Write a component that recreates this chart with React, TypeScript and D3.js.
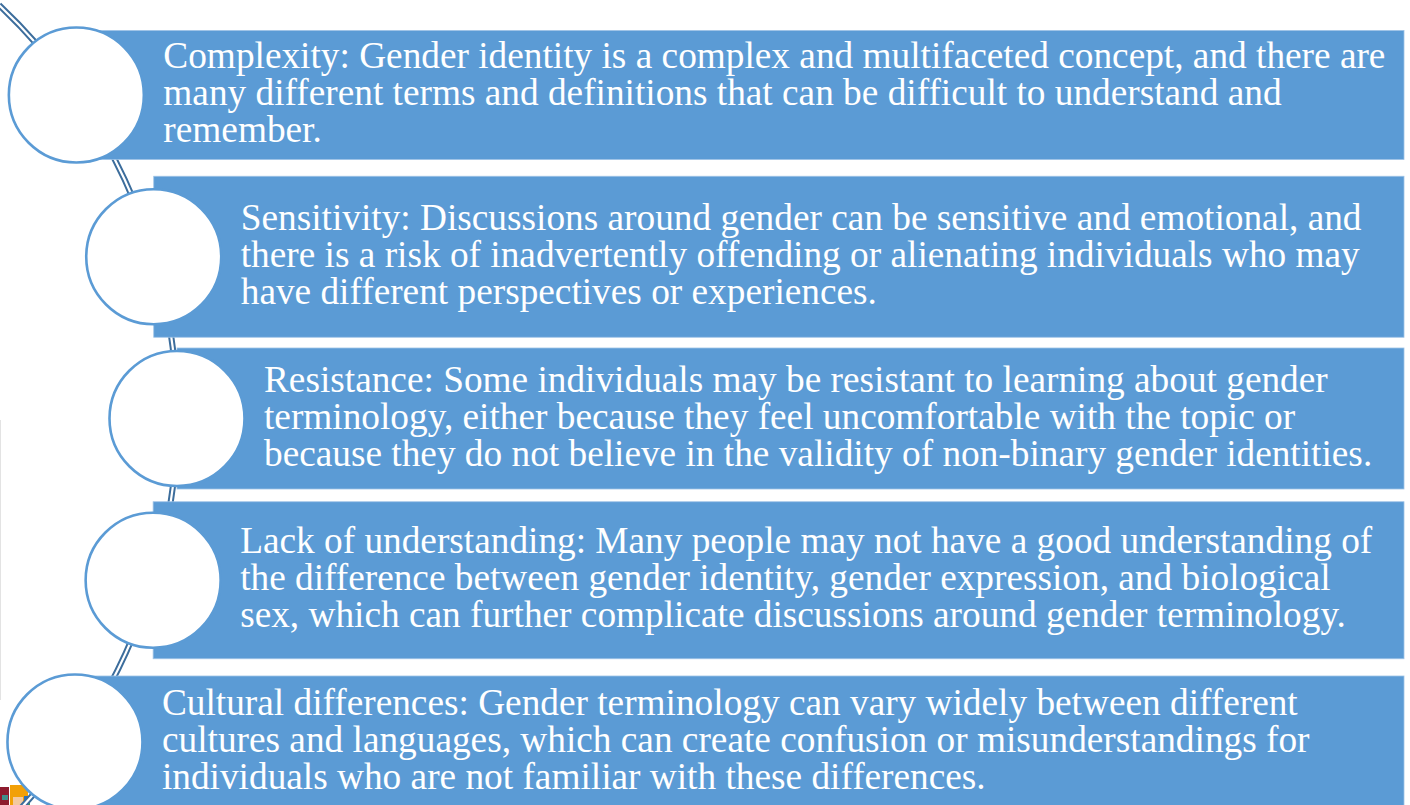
import React from "react";
import * as d3 from "d3";

// ---- data ----
const topics = ["Complexity", "Sensitivity", "Resistance", "Lack of understanding", "Cultural differences"];
const lines1 = [
  "Complexity: Gender identity is a complex and multifaceted concept, and there are",
  "many different terms and definitions that can be difficult to understand and",
  "remember.",
];
const lines2 = [
  "Sensitivity: Discussions around gender can be sensitive and emotional, and",
  "there is a risk of inadvertently offending or alienating individuals who may",
  "have different perspectives or experiences.",
];
const lines3 = [
  "Resistance: Some individuals may be resistant to learning about gender",
  "terminology, either because they feel uncomfortable with the topic or",
  "because they do not believe in the validity of non-binary gender identities.",
];
const lines4 = [
  "Lack of understanding: Many people may not have a good understanding of",
  "the difference between gender identity, gender expression, and biological",
  "sex, which can further complicate discussions around gender terminology.",
];
const lines5 = [
  "Cultural differences: Gender terminology can vary widely between different",
  "cultures and languages, which can create confusion or misunderstandings for",
  "individuals who are not familiar with these differences.",
];
const itemLines = [lines1, lines2, lines3, lines4, lines5];

// ---- layout ----
const W = 1410;
const H = 805;
const BLUE = "#5B9BD5";
const DARK = "#3C6D9C";
const boxHeights = [129, 161, 141, 157, 132];
const arcCx = -390;
const arcCy = 417.5;
const arcR = 567;
const circleR = 67.5;
const textOffset = 87;
const lineGap = 37;
const boxRight = 1404;

export default function App() {
  const yScale = d3.scalePoint<number>().domain(d3.range(topics.length)).range([95, 742]);
  const arcX = (y: number) => arcCx + Math.sqrt(arcR * arcR - (y - arcCy) * (y - arcCy));

  const a0 = Math.asin((5 - arcCy) / arcR);
  const a1 = Math.asin((815 - arcCy) / arcR);
  const p = d3.path();
  p.arc(arcCx, arcCy, arcR, a0, a1);
  const arcD = p.toString();

  const items = topics.map((t, i) => {
    const cy = yScale(i)!;
    const cx = arcX(cy);
    return { t, i, cy, cx, h: boxHeights[i], lines: itemLines[i] };
  });

  return (
    <svg
      width={W}
      height={H}
      viewBox={`0 0 ${W} ${H}`}
      style={{ position: "absolute", left: 0, top: 0, background: "#fff" }}
    >
      {/* faint edge line */}
      <line x1={0.5} x2={0.5} y1={420} y2={700} stroke="#e3e3e3" strokeWidth={1} />
      {/* image fragment bottom-left */}
      <g>
        <rect x={0} y={787} width={9} height={18} fill="#8E1B2E" />
        <rect x={2} y={795} width={6} height={5} fill="#3F8F8A" />
        <rect x={10} y={785} width={18} height={20} fill="#F2A007" />
        <rect x={13} y={797} width={10} height={8} fill="#F3C9A0" />
        <rect x={24} y={796} width={5} height={6} fill="#2A6FBF" />
        <rect x={27} y={800} width={3} height={5} fill="#3FA34D" />
      </g>
      {/* connector arc (double line) */}
      <path d={arcD} fill="none" stroke={DARK} strokeWidth={6.2} />
      <path d={arcD} fill="none" stroke="#ffffff" strokeWidth={2.2} />
      {/* boxes */}
      {items.map((d) => (
        <rect
          key={"r" + d.i}
          x={d.cx}
          y={d.cy - d.h / 2}
          width={boxRight - d.cx}
          height={d.h}
          fill={BLUE}
          stroke="#9DC3E6"
          strokeWidth={0.8}
        />
      ))}
      {/* circles */}
      {items.map((d) => (
        <circle key={"c" + d.i} cx={d.cx} cy={d.cy} r={circleR} fill="#fff" stroke={BLUE} strokeWidth={2.6} />
      ))}
      {/* texts */}
      {items.map((d) => (
        <text
          key={"t" + d.i}
          x={d.cx + textOffset}
          y={d.cy + 10}
          fill="#fff"
          fontFamily="'Liberation Serif', 'Times New Roman', serif"
          fontSize={37.3}
        >
          {d.lines.map((ln, j) => (
            <tspan key={j} x={d.cx + textOffset} y={d.cy + 10 + (j - 1) * lineGap}>
              {ln}
            </tspan>
          ))}
        </text>
      ))}
    </svg>
  );
}
